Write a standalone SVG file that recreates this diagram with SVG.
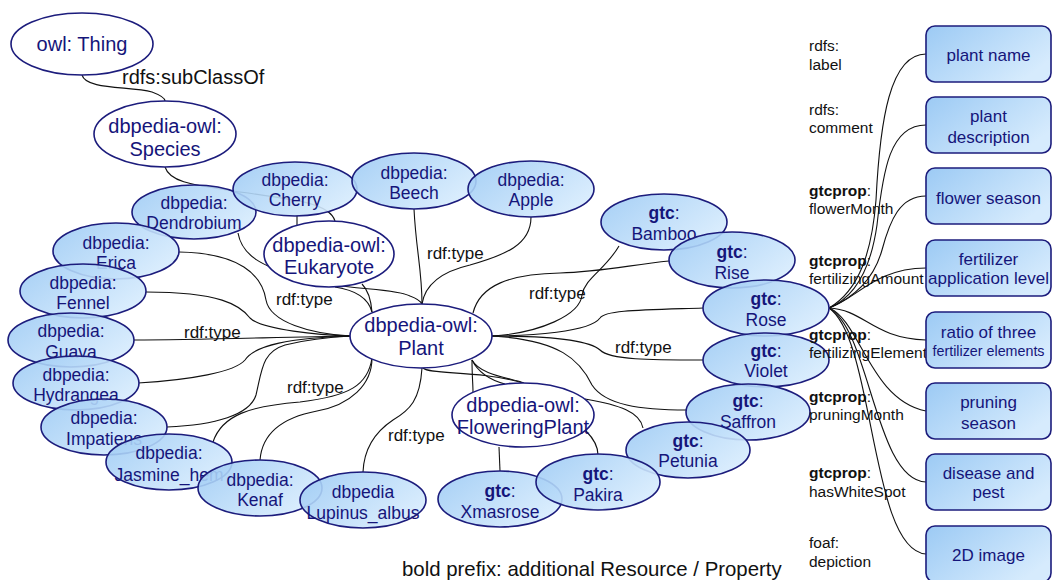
<svg xmlns="http://www.w3.org/2000/svg" width="1052" height="580" viewBox="0 0 1052 580">
<defs>
<linearGradient id="bl" x1="0" y1="0" x2="1" y2="0.6">
<stop offset="0" stop-color="#9ccaf4"/>
<stop offset="1" stop-color="#d6ebfd"/>
</linearGradient>
<style>
text{font-family:"Liberation Sans",Arial,sans-serif}
.bn ellipse{fill:url(#bl);fill-opacity:0.9;stroke:#1c1c7c;stroke-width:1.6}
.wn ellipse{fill:#fff;stroke:#1c1c7c;stroke-width:1.6}
.bx rect{fill:url(#bl);stroke:#1c1c7c;stroke-width:1.6}
.nt{font-size:17.5px;fill:#15157a;text-anchor:middle}
.ot{font-size:20px;fill:#15157a;text-anchor:middle}
.bt{font-size:17px;fill:#15157a;text-anchor:middle}
.lb{font-size:17px;fill:#111}
.pl{font-size:15.5px;fill:#111}
.b{font-weight:bold}
#connectors path{fill:none;stroke:#111;stroke-width:1.1}
</style>
</defs>
<rect width="1052" height="580" fill="#fff"/>
<g id="connectors">
<path d="M82,75 C86,90 130,86 152,92 C160,95 165,98 165,101"/>
<path d="M165,167 C170,183 195,185 240,192 C300,200 330,204 335,221"/>
<path d="M297,216 L297,225"/>
<path d="M238,233 C242,256 262,266 300,278 C340,290 395,288 410,296 C418,299 421,302 422,304"/>
<path d="M335,287 C355,290 368,297 372,312"/>
<path d="M362,284 C368,290 371,300 372,312"/>
<path d="M414,209 C416,250 422,270 422,304"/>
<path d="M531,217 C531,245 505,255 470,265 C440,272 425,285 422,304"/>
<path d="M619,246 C605,270 585,278 582,295 C580,315 540,333 492,336"/>
<path d="M669,261 C630,265 600,272 560,273 C510,274 480,285 473,313"/>
<path d="M703,308 C640,310 605,310 600,318 C590,332 530,336 492,336"/>
<path d="M703,360 C650,360 610,360 600,350 C588,339 540,336 492,336"/>
<path d="M687,410 C640,410 605,405 592,385 C580,360 560,340 492,336"/>
<path d="M643,428 C640,412 620,405 585,399"/>
<path d="M598,455 C598,445 592,437 586,431"/>
<path d="M500,471 L499,447"/>
<path d="M472,360 C472,375 473,385 473,392"/>
<path d="M472,360 C478,372 490,380 505,384"/>
<path d="M472,360 C480,375 510,378 524,383"/>
<path d="M423,368 C430,375 480,370 523,383"/>
<path d="M422,368 C420,400 410,410 393,420 C375,432 364,448 363,472"/>
<path d="M372,358 C368,385 350,396 300,402 C250,406 222,415 213,442"/>
<path d="M372,358 C372,385 350,405 317,411 C280,418 262,435 260,460"/>
<path d="M167,427 C215,425 250,415 256,395 C262,370 262,352 285,345 C305,340 330,337 351,336"/>
<path d="M138,383 C190,380 235,372 245,360 C255,345 290,338 351,336"/>
<path d="M134,340 C200,340 280,337 351,336"/>
<path d="M146,292 C220,292 240,305 250,318 C262,330 320,335 351,336"/>
<path d="M179,252 C240,253 262,275 266,300 C270,322 310,334 351,336"/>
<path d="M829,308 C860,290 872,250 876,200 C880,120 890,54 926,54"/>
<path d="M829,308 C860,295 872,260 877,225 C883,170 890,125 926,125"/>
<path d="M829,308 C860,295 875,275 882,250 C890,220 900,196 926,196"/>
<path d="M829,308 C855,300 875,268 926,268"/>
<path d="M829,308 C865,310 872,338 926,340"/>
<path d="M829,308 C860,320 870,400 926,411"/>
<path d="M829,308 C870,330 875,480 926,482"/>
<path d="M829,308 C875,340 870,550 926,554"/>
</g>
<text class="lb" x="122" y="84" style="font-size:20px">rdfs:subClassOf</text>
<text class="lb" x="427" y="259">rdf:type</text>
<text class="lb" x="529" y="299">rdf:type</text>
<text class="lb" x="276" y="305">rdf:type</text>
<text class="lb" x="184" y="338">rdf:type</text>
<text class="lb" x="615" y="353">rdf:type</text>
<text class="lb" x="287" y="393">rdf:type</text>
<text class="lb" x="388" y="441">rdf:type</text>
<g id="thing" class="wn"><ellipse cx="82" cy="44" rx="71" ry="31"/><text class="ot" x="82" y="51">owl: Thing</text></g>
<g id="species" class="wn"><ellipse cx="165" cy="134" rx="71" ry="33"/><text class="ot" x="165" y="133">dbpedia-owl:</text><text class="ot" x="165" y="156">Species</text></g>
<g id="dendrobium" class="bn"><ellipse cx="194" cy="212" rx="62" ry="27"/><text class="nt" x="194" y="209">dbpedia:</text><text class="nt" x="194" y="229">Dendrobium</text></g>
<g id="cherry" class="bn"><ellipse cx="295" cy="189" rx="62" ry="27"/><text class="nt" x="295" y="186">dbpedia:</text><text class="nt" x="295" y="206">Cherry</text></g>
<g id="beech" class="bn"><ellipse cx="414" cy="181" rx="62" ry="28"/><text class="nt" x="414" y="179">dbpedia:</text><text class="nt" x="414" y="199">Beech</text></g>
<g id="apple" class="bn"><ellipse cx="531" cy="189" rx="63" ry="28"/><text class="nt" x="531" y="186">dbpedia:</text><text class="nt" x="531" y="206">Apple</text></g>
<g id="eukaryote" class="wn"><ellipse cx="329" cy="254" rx="65" ry="33"/><text class="ot" x="329" y="252">dbpedia-owl:</text><text class="ot" x="329" y="274">Eukaryote</text></g>
<g id="erica" class="bn"><ellipse cx="116" cy="251" rx="63" ry="28"/><text class="nt" x="116" y="249">dbpedia:</text><text class="nt" x="116" y="269">Erica</text></g>
<g id="fennel" class="bn"><ellipse cx="83" cy="291" rx="63" ry="27"/><text class="nt" x="83" y="289">dbpedia:</text><text class="nt" x="83" y="309">Fennel</text></g>
<g id="guava" class="bn"><ellipse cx="71" cy="340" rx="63" ry="27"/><text class="nt" x="71" y="337">dbpedia:</text><text class="nt" x="71" y="358">Guava</text></g>
<g id="hydrangea" class="bn"><ellipse cx="76" cy="383" rx="63" ry="27"/><text class="nt" x="76" y="381">dbpedia:</text><text class="nt" x="76" y="401">Hydrangea</text></g>
<g id="impatiens" class="bn"><ellipse cx="104" cy="427" rx="63" ry="28"/><text class="nt" x="104" y="424">dbpedia:</text><text class="nt" x="104" y="445">Impatiens</text></g>
<g id="jasmine" class="bn"><ellipse cx="169" cy="462" rx="63" ry="28"/><text class="nt" x="169" y="459">dbpedia:</text><text class="nt" x="169" y="481">Jasmine_hem</text></g>
<g id="kenaf" class="bn"><ellipse cx="260" cy="488" rx="62" ry="28"/><text class="nt" x="260" y="486">dbpedia:</text><text class="nt" x="260" y="506">Kenaf</text></g>
<g id="lupinus" class="bn"><ellipse cx="363" cy="500" rx="63" ry="28"/><text class="nt" x="363" y="498">dbpedia</text><text class="nt" x="363" y="519">Lupinus_albus</text></g>
<g id="plant" class="wn"><ellipse cx="421" cy="336" rx="71" ry="32"/><text class="ot" x="421" y="332">dbpedia-owl:</text><text class="ot" x="421" y="355">Plant</text></g>
<g id="floweringplant" class="wn"><ellipse cx="523" cy="415" rx="71" ry="32"/><text class="ot" x="523" y="412">dbpedia-owl:</text><text class="ot" x="523" y="434">FloweringPlant</text></g>
<g id="bamboo" class="bn"><ellipse cx="664" cy="222" rx="63" ry="28"/><text class="nt" x="664" y="219"><tspan class="b">gtc</tspan>:</text><text class="nt" x="664" y="240">Bamboo</text></g>
<g id="rise" class="bn"><ellipse cx="732" cy="260" rx="63" ry="28"/><text class="nt" x="732" y="258"><tspan class="b">gtc</tspan>:</text><text class="nt" x="732" y="279">Rise</text></g>
<g id="rose" class="bn"><ellipse cx="766" cy="308" rx="63" ry="28"/><text class="nt" x="766" y="305"><tspan class="b">gtc</tspan>:</text><text class="nt" x="766" y="326">Rose</text></g>
<g id="violet" class="bn"><ellipse cx="766" cy="360" rx="63" ry="27"/><text class="nt" x="766" y="357"><tspan class="b">gtc</tspan>:</text><text class="nt" x="766" y="377">Violet</text></g>
<g id="saffron" class="bn"><ellipse cx="748" cy="412" rx="62" ry="28"/><text class="nt" x="748" y="407"><tspan class="b">gtc</tspan>:</text><text class="nt" x="748" y="428">Saffron</text></g>
<g id="petunia" class="bn"><ellipse cx="688" cy="450" rx="62" ry="28"/><text class="nt" x="688" y="447"><tspan class="b">gtc</tspan>:</text><text class="nt" x="688" y="467">Petunia</text></g>
<g id="xmasrose" class="bn"><ellipse cx="500" cy="499" rx="62" ry="28"/><text class="nt" x="500" y="497"><tspan class="b">gtc</tspan>:</text><text class="nt" x="500" y="518">Xmasrose</text></g>
<g id="pakira" class="bn"><ellipse cx="598" cy="482" rx="62" ry="28"/><text class="nt" x="598" y="480"><tspan class="b">gtc</tspan>:</text><text class="nt" x="598" y="501">Pakira</text></g>
<g id="props">
<text class="pl" x="809" y="51">rdfs:</text><text class="pl" x="809" y="70">label</text>
<text class="pl" x="809" y="115">rdfs:</text><text class="pl" x="809" y="133">comment</text>
<text class="pl" x="809" y="196"><tspan class="b">gtcprop</tspan>:</text><text class="pl" x="809" y="214">flowerMonth</text>
<text class="pl" x="809" y="266"><tspan class="b">gtcprop</tspan>:</text><text class="pl" x="809" y="284">fertilizingAmount</text>
<text class="pl" x="809" y="340"><tspan class="b">gtcprop</tspan>:</text><text class="pl" x="809" y="358">fertilizingElement</text>
<text class="pl" x="809" y="402"><tspan class="b">gtcprop</tspan>:</text><text class="pl" x="809" y="420">pruningMonth</text>
<text class="pl" x="809" y="478"><tspan class="b">gtcprop</tspan>:</text><text class="pl" x="809" y="497">hasWhiteSpot</text>
<text class="pl" x="809" y="548">foaf:</text><text class="pl" x="809" y="567">depiction</text>
</g>
<g id="box-name" class="bx"><rect x="926" y="26" width="125" height="56" rx="9"/><text class="bt" x="988.5" y="61">plant name</text></g>
<g id="box-desc" class="bx"><rect x="926" y="97" width="125" height="56" rx="9"/><text class="bt" x="988.5" y="122">plant</text><text class="bt" x="988.5" y="143">description</text></g>
<g id="box-flower" class="bx"><rect x="926" y="168" width="125" height="56" rx="9"/><text class="bt" x="988.5" y="204">flower season</text></g>
<g id="box-fert" class="bx"><rect x="926" y="240" width="125" height="56" rx="9"/><text class="bt" x="988.5" y="265">fertilizer</text><text class="bt" x="988.5" y="284">application level</text></g>
<g id="box-ratio" class="bx"><rect x="926" y="312" width="125" height="56" rx="9"/><text class="bt" x="988.5" y="338">ratio of three</text><text class="bt" x="988.5" y="356" style="font-size:14.3px">fertilizer elements</text></g>
<g id="box-prune" class="bx"><rect x="926" y="383" width="125" height="56" rx="9"/><text class="bt" x="988.5" y="408">pruning</text><text class="bt" x="988.5" y="429">season</text></g>
<g id="box-disease" class="bx"><rect x="926" y="454" width="125" height="56" rx="9"/><text class="bt" x="988.5" y="479">disease and</text><text class="bt" x="988.5" y="498">pest</text></g>
<g id="box-image" class="bx"><rect x="926" y="526" width="125" height="56" rx="9"/><text class="bt" x="988.5" y="561">2D image</text></g>
<text class="lb" x="402" y="576" style="font-size:20.4px">bold prefix: additional Resource / Property</text>
</svg>
